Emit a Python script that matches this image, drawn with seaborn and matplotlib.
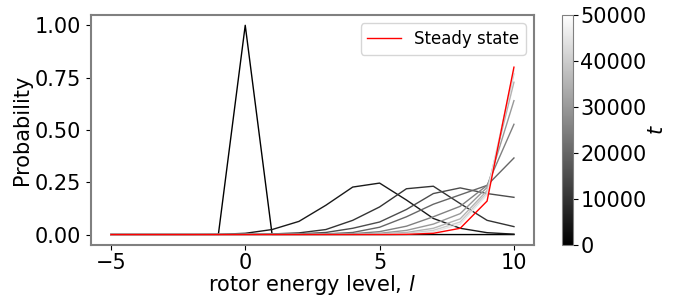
import numpy as np
import pandas as pd
import seaborn as sns
import matplotlib
matplotlib.use("Agg")
import matplotlib.pyplot as plt

levels = list(range(-5, 11))
times = [0, 5000, 10000, 15000, 20000, 25000, 30000, 35000, 40000, 45000]

#           -5 -4 -3 -2  -1     0      1      2      3      4      5      6      7      8      9      10
p_t0     = [0, 0, 0, 0, 0.0,   1.0,   0.0,   0.0,   0.0,   0.0,   0.0,   0.0,   0.0,   0.0,   0.0,   0.0]
p_t5000  = [0, 0, 0, 0, 0.001, 0.006, 0.024, 0.063, 0.14,  0.227, 0.246, 0.165, 0.077, 0.03,  0.009, 0.002]
p_t10000 = [0, 0, 0, 0, 0.0,   0.001, 0.003, 0.008, 0.024, 0.068, 0.132, 0.219, 0.231, 0.148, 0.068, 0.038]
p_t15000 = [0, 0, 0, 0, 0.0,   0.0,   0.001, 0.003, 0.01,  0.03,  0.06,  0.12,  0.196, 0.223, 0.196, 0.178]
p_t20000 = [0, 0, 0, 0, 0.0,   0.0,   0.0,   0.001, 0.003, 0.01,  0.035, 0.085, 0.145, 0.19,  0.235, 0.366]
p_t25000 = [0, 0, 0, 0, 0.0,   0.0,   0.0,   0.0,   0.001, 0.004, 0.014, 0.04,  0.085, 0.135, 0.235, 0.527]
p_t30000 = [0, 0, 0, 0, 0.0,   0.0,   0.0,   0.0,   0.0,   0.001, 0.006, 0.02,  0.05,  0.1,   0.225, 0.64]
p_t35000 = [0, 0, 0, 0, 0.0,   0.0,   0.0,   0.0,   0.0,   0.0,   0.003, 0.01,  0.03,  0.075, 0.21,  0.728]
p_t40000 = [0, 0, 0, 0, 0.0,   0.0,   0.0,   0.0,   0.0,   0.0,   0.001, 0.005, 0.02,  0.06,  0.2,   0.768]
p_t45000 = [0, 0, 0, 0, 0.0,   0.0,   0.0,   0.0,   0.0,   0.0,   0.0,   0.003, 0.013, 0.05,  0.19,  0.785]
steady   = [0, 0, 0, 0, 0.0,   0.0,   0.0,   0.0,   0.0,   0.0,   0.0,   0.001, 0.006, 0.03,  0.16,  0.80]

series = [p_t0, p_t5000, p_t10000, p_t15000, p_t20000, p_t25000,
          p_t30000, p_t35000, p_t40000, p_t45000]

rows = []
for t, p in zip(times, series):
    for l, v in zip(levels, p):
        rows.append((t, l, v))
df = pd.DataFrame(rows, columns=["t", "l", "p"])

plt.rcParams["font.size"] = 15
fig = plt.figure(figsize=(7, 2.97), dpi=100)
ax = fig.add_axes([0.1296, 0.175, 0.6334, 0.775])
cax = fig.add_axes([0.803, 0.175, 0.0153, 0.775])

sns.lineplot(data=df, x="l", y="p", hue="t", palette="gray",
             hue_norm=(0, 50000), legend=False, linewidth=1, ax=ax)
sns.lineplot(x=levels, y=steady, color="red", linewidth=1,
             label="Steady state", ax=ax)

ax.set_xlabel("rotor energy level, $l$", labelpad=0)
ax.set_ylabel("Probability", labelpad=2)
ax.set_xticks([-5, 0, 5, 10])
ax.set_yticks([0, 0.25, 0.5, 0.75, 1.0])
ax.tick_params(axis="x", pad=2.5)
for s in ax.spines.values():
    s.set_color("#808080")
    s.set_linewidth(1.5)
ax.legend(loc="upper right", fontsize=12)

sm = plt.cm.ScalarMappable(cmap="gray", norm=plt.Normalize(0, 50000))
cb = fig.colorbar(sm, cax=cax)
cb.set_label("$t$", labelpad=0)
cb.set_ticks([0, 10000, 20000, 30000, 40000, 50000])
cb.ax.tick_params(pad=2)
cb.outline.set_edgecolor("#808080")

fig.savefig("out.png", dpi=100)
